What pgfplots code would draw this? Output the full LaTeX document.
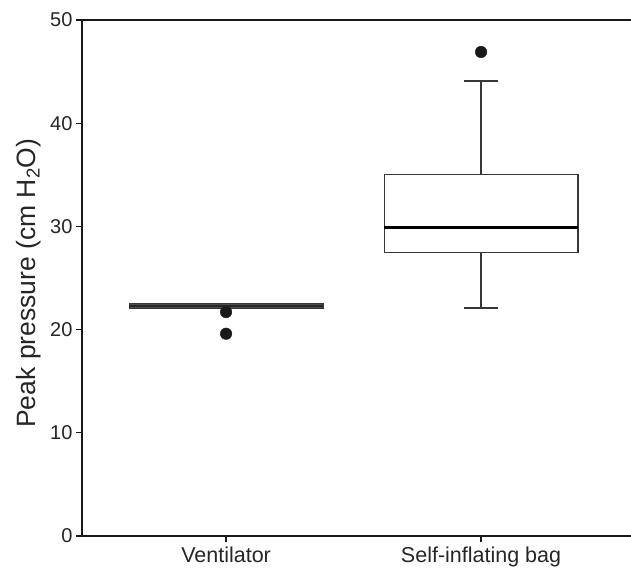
\documentclass[border=0pt]{standalone}
\usepackage{pgfplots}
\pgfplotsset{compat=1.18}
\usepackage{fontspec}
\setmainfont{Liberation Sans}
\definecolor{boxgray}{RGB}{55,55,55}

\begin{document}
\begin{tikzpicture}
  \begin{axis}[
    scale only axis,
    width=549pt, height=516pt,
    xmin=0.435, xmax=2.588,
    ymin=0, ymax=50,
    ytick={0,10,...,50},
    xtick={1,2},
    xticklabels={Ventilator,Self-inflating bag},
    axis x line=box,
    axis y line=left,
    axis line style={-, line width=2.4pt, black!90},
    xtick pos=bottom, ytick pos=left,
    tick align=outside,
    major tick length=6pt,
    tick style={line width=1.2pt, black!90},
    yticklabel style={font=\fontsize{20}{22}\selectfont, black!85},
    xticklabel style={font=\fontsize{21.5}{23}\selectfont, black!85, yshift=-1pt},
    /pgf/number format/assume math mode=true,
    ylabel={Peak pressure (cm H\textsubscript{2}O)},
    every axis y label/.style={at={(axis description cs:-0.0975,0.49)},
      rotate=90, anchor=center, font=\fontsize{26.5}{28}\selectfont, black!85},
    clip=false,
  ]
    % Ventilator box (whiskers of zero length)
    \addplot[draw=boxgray, fill=black!70, line width=1.2pt, line join=miter]
      coordinates {(0.62,22.05)(1.38,22.05)(1.38,22.55)(0.62,22.55)} -- cycle;
    \addplot[black!85, line width=1.3pt]
      coordinates {(0.62,22.3)(1.38,22.3)};
    % Self-inflating bag box
    \addplot[draw=boxgray, line width=1.3pt, line join=miter]
      coordinates {(1.62,27.45)(2.38,27.45)(2.38,35.0)(1.62,35.0)} -- cycle;
    \addplot[black, line width=2.5pt]
      coordinates {(1.62,29.9)(2.38,29.9)};
    % whiskers and caps
    \addplot[boxgray, line width=1.3pt] coordinates {(2,35.0)(2,44.1)};
    \addplot[boxgray, line width=1.3pt] coordinates {(2,27.45)(2,22.1)};
    \addplot[boxgray, line width=1.3pt] coordinates {(1.935,44.1)(2.065,44.1)};
    \addplot[boxgray, line width=1.3pt] coordinates {(1.935,22.1)(2.065,22.1)};
    % outliers
    \addplot[only marks, mark=*, mark size=5.8pt, black!90]
      coordinates {(1,21.7)(1,19.6)(2,46.9)};
    \coordinate (sw) at (rel axis cs:0,0);
    \coordinate (ne) at (rel axis cs:1,1);
  \end{axis}
  \pgfresetboundingbox
  \path ([xshift=-82pt,yshift=-31pt]sw) rectangle ([yshift=20pt]ne);
\end{tikzpicture}
\end{document}
